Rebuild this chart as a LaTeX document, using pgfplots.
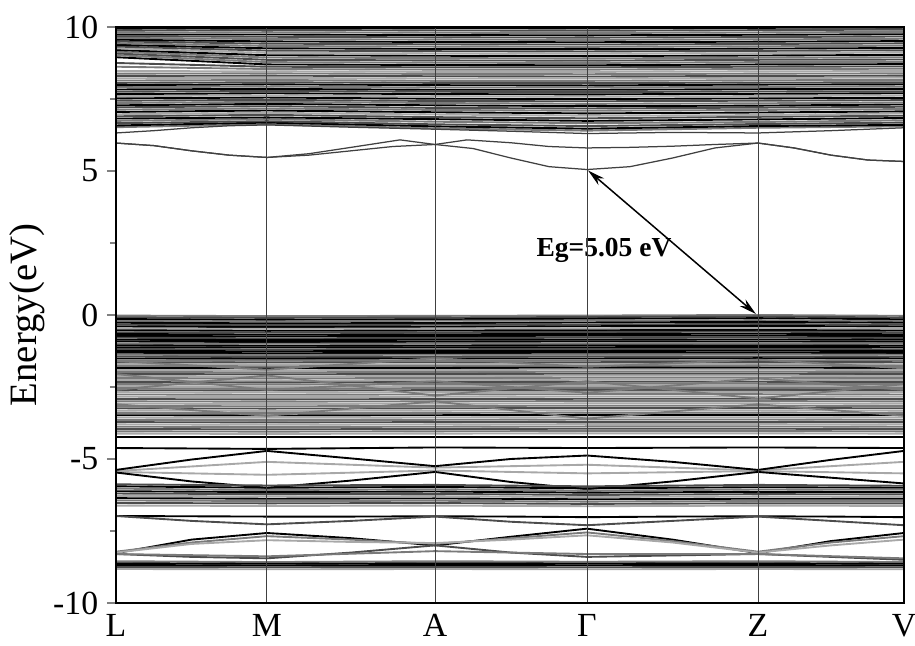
\documentclass[border=0pt]{standalone}
\usepackage{pgfplots}
\pgfplotsset{compat=1.18}
\usepackage{fontspec}
\setmainfont{Liberation Serif}
\usetikzlibrary{arrows.meta}
\tikzset{
 d0/.style={black, line width=0.75pt},
 d1/.style={black!70, line width=0.75pt},
 d2/.style={black!52, line width=0.75pt},
 d3/.style={black!34, line width=0.75pt},
 fe/.style={black!75, line width=0.5pt},
}
% one band: style, then energies at L, M, A, Gamma, Z, V
\newcommand{\fb}[7]{\addplot[#1] coordinates {(0,#2)(1.51,#3)(3.19,#4)(4.71,#5)(6.42,#6)(7.88,#7)};}
\begin{document}
\begin{tikzpicture}
\begin{axis}[name=ax, scale only axis, width=315.2pt, height=230.4pt,
 xmin=0, xmax=7.88, ymin=-10, ymax=10,
 axis on top, axis line style={line width=0.8pt},
 xtick={0,1.51,3.19,4.71,6.42,7.88},
 xticklabels={L,M,A,Γ,Z,V},
 xtick style={draw=none},
 xticklabel style={yshift=2.6pt},
 xmajorgrids, major x grid style={black!75, line width=0.4pt},
 ytick={-10,-5,0,5,10},
 yticklabels={-10,-5,0,5,10},
 minor y tick num=1,
 ytick pos=left, tick align=outside,
 major tick length=3.6pt, minor tick length=2.4pt,
 ytick style={line width=0.6pt},
 tick label style={font=\fontsize{13.5}{15}\selectfont},
 every axis y label/.style={at={(axis description cs:-0.112,0.5)}, rotate=90, anchor=center, font=\fontsize{15.5}{17}\selectfont},
 ylabel={Energy(eV)},
]
% ---------- upper conduction dense region ----------
\fb{d2}{6.52}{6.62}{6.48}{6.40}{6.50}{6.55}
\fb{d0}{6.58}{6.68}{6.55}{6.47}{6.56}{6.60}
\fb{d1}{6.66}{6.73}{6.62}{6.56}{6.63}{6.68}
\fb{d2}{6.74}{6.80}{6.71}{6.66}{6.70}{6.76}
\fb{d0}{6.82}{6.86}{6.80}{6.74}{6.79}{6.84}
\fb{d1}{6.90}{6.95}{6.87}{6.83}{6.88}{6.92}
\fb{d3}{6.97}{7.02}{6.96}{6.92}{6.94}{7.00}
\fb{d0}{7.05}{7.10}{7.04}{7.00}{7.03}{7.07}
\fb{d2}{7.13}{7.17}{7.12}{7.09}{7.12}{7.15}
\fb{d1}{7.21}{7.25}{7.19}{7.17}{7.20}{7.23}
\fb{d0}{7.28}{7.33}{7.28}{7.25}{7.27}{7.31}
\fb{d2}{7.36}{7.40}{7.36}{7.33}{7.35}{7.38}
\fb{d1}{7.44}{7.47}{7.43}{7.42}{7.44}{7.46}
\fb{d0}{7.52}{7.55}{7.51}{7.50}{7.52}{7.54}
\fb{d3}{7.60}{7.62}{7.59}{7.58}{7.60}{7.62}
\fb{d0}{7.67}{7.70}{7.67}{7.66}{7.68}{7.70}
\fb{d1}{7.75}{7.78}{7.75}{7.74}{7.76}{7.77}
\fb{d0}{7.83}{7.85}{7.82}{7.82}{7.84}{7.85}
\fb{d2}{7.91}{7.93}{7.90}{7.90}{7.92}{7.93}
\fb{d0}{7.98}{8.01}{7.98}{7.97}{8.00}{8.01}
\fb{d1}{8.06}{8.08}{8.06}{8.05}{8.07}{8.08}
\fb{d2}{8.14}{8.16}{8.13}{8.13}{8.15}{8.16}
\fb{d3}{8.22}{8.23}{8.21}{8.21}{8.23}{8.24}
\fb{d1}{8.30}{8.31}{8.29}{8.28}{8.30}{8.31}
\fb{d2}{8.38}{8.39}{8.37}{8.36}{8.38}{8.39}
\fb{d3}{8.47}{8.46}{8.44}{8.44}{8.46}{8.47}
\fb{d2}{8.62}{8.54}{8.52}{8.52}{8.54}{8.55}
\fb{d1}{8.75}{8.62}{8.60}{8.60}{8.62}{8.63}
\fb{d0}{8.95}{8.70}{8.68}{8.67}{8.70}{8.71}
\fb{d2}{9.02}{8.78}{8.76}{8.75}{8.78}{8.79}
\fb{d1}{9.08}{8.86}{8.84}{8.83}{8.86}{8.87}
\fb{d2}{9.14}{8.94}{8.92}{8.91}{8.93}{8.95}
\fb{d0}{9.20}{9.02}{9.00}{8.99}{9.01}{9.03}
\fb{d3}{9.26}{9.10}{9.08}{9.07}{9.09}{9.11}
\fb{d1}{9.32}{9.18}{9.16}{9.15}{9.17}{9.19}
\fb{d0}{9.38}{9.26}{9.24}{9.23}{9.25}{9.27}
\fb{d2}{9.44}{9.34}{9.32}{9.31}{9.33}{9.35}
\fb{d1}{9.50}{9.42}{9.40}{9.39}{9.41}{9.43}
\fb{d0}{9.56}{9.50}{9.48}{9.47}{9.49}{9.51}
\fb{d2}{9.62}{9.58}{9.56}{9.55}{9.57}{9.59}
\fb{d1}{9.68}{9.66}{9.64}{9.63}{9.65}{9.67}
\fb{d0}{9.74}{9.74}{9.72}{9.71}{9.73}{9.75}
\fb{d2}{9.80}{9.82}{9.80}{9.79}{9.81}{9.83}
\fb{d1}{9.87}{9.90}{9.88}{9.87}{9.89}{9.91}
\fb{d0}{9.94}{9.97}{9.96}{9.95}{9.97}{9.98}
\fb{d2}{10.02}{10.04}{10.02}{10.02}{10.03}{10.05}
% ---------- lowest conduction bands ----------
\addplot[fe] coordinates {(0,6.32)(0.38,6.40)(0.755,6.50)(1.13,6.57)(1.51,6.60)(2.35,6.52)(3.19,6.45)(3.95,6.38)(4.71,6.30)(5.565,6.34)(6.42,6.32)(7.15,6.40)(7.88,6.50)};
\addplot[fe] coordinates {(0,5.97)(0.38,5.88)(0.755,5.70)(1.13,5.55)(1.51,5.47)(1.93,5.60)(2.35,5.82)(2.84,6.08)(3.19,5.92)(3.51,6.08)(3.95,5.98)(4.33,5.85)(4.71,5.80)(5.14,5.82)(5.565,5.86)(5.99,5.92)(6.42,5.97)(6.78,5.80)(7.15,5.55)(7.52,5.38)(7.88,5.33)};
\addplot[fe] coordinates {(0,5.97)(0.38,5.88)(0.755,5.70)(1.13,5.55)(1.51,5.47)(1.93,5.55)(2.35,5.70)(2.77,5.85)(3.19,5.92)(3.57,5.78)(3.95,5.45)(4.33,5.15)(4.71,5.05)(5.14,5.15)(5.565,5.45)(5.99,5.80)(6.42,5.97)(6.78,5.80)(7.15,5.55)(7.52,5.38)(7.88,5.33)};
% ---------- valence dense region ----------
\fb{d2}{-0.02}{-0.04}{-0.03}{-0.02}{0.00}{-0.03}
\fb{d1}{-0.08}{-0.10}{-0.09}{-0.07}{-0.05}{-0.09}
\fb{d0}{-0.14}{-0.17}{-0.15}{-0.13}{-0.11}{-0.15}
\fb{d2}{-0.21}{-0.22}{-0.20}{-0.19}{-0.18}{-0.21}
\fb{d0}{-0.27}{-0.29}{-0.28}{-0.26}{-0.24}{-0.27}
\fb{d1}{-0.34}{-0.35}{-0.34}{-0.33}{-0.31}{-0.34}
\fb{d0}{-0.40}{-0.42}{-0.41}{-0.39}{-0.38}{-0.40}
\fb{d3}{-0.47}{-0.48}{-0.47}{-0.46}{-0.45}{-0.47}
\fb{d0}{-0.53}{-0.55}{-0.54}{-0.53}{-0.52}{-0.54}
\fb{d1}{-0.60}{-0.61}{-0.60}{-0.59}{-0.58}{-0.60}
\fb{d0}{-0.66}{-0.68}{-0.67}{-0.66}{-0.65}{-0.67}
\fb{d0}{-0.73}{-0.74}{-0.73}{-0.72}{-0.72}{-0.73}
\fb{d1}{-0.79}{-0.81}{-0.80}{-0.79}{-0.78}{-0.80}
\fb{d0}{-0.86}{-0.87}{-0.86}{-0.86}{-0.85}{-0.86}
\fb{d0}{-0.92}{-0.94}{-0.93}{-0.92}{-0.92}{-0.93}
\fb{d2}{-0.99}{-1.00}{-0.99}{-0.99}{-0.98}{-0.99}
\fb{d0}{-1.05}{-1.07}{-1.06}{-1.05}{-1.05}{-1.06}
\fb{d0}{-1.12}{-1.13}{-1.12}{-1.12}{-1.11}{-1.12}
\fb{d1}{-1.18}{-1.20}{-1.19}{-1.18}{-1.18}{-1.19}
\fb{d0}{-1.25}{-1.26}{-1.25}{-1.25}{-1.24}{-1.25}
\fb{d0}{-1.31}{-1.33}{-1.32}{-1.31}{-1.31}{-1.32}
\fb{d2}{-1.38}{-1.39}{-1.38}{-1.38}{-1.37}{-1.38}
\fb{d1}{-1.44}{-1.46}{-1.45}{-1.44}{-1.44}{-1.45}
\fb{d0}{-1.51}{-1.52}{-1.51}{-1.51}{-1.50}{-1.51}
\fb{d2}{-1.57}{-1.59}{-1.58}{-1.57}{-1.57}{-1.58}
\fb{d1}{-1.64}{-1.65}{-1.64}{-1.64}{-1.63}{-1.64}
\fb{d3}{-1.70}{-1.72}{-1.71}{-1.70}{-1.70}{-1.71}
\fb{d2}{-1.77}{-1.78}{-1.77}{-1.77}{-1.76}{-1.77}
\fb{d0}{-1.84}{-1.85}{-1.84}{-1.83}{-1.83}{-1.84}
\fb{d3}{-1.91}{-1.92}{-1.91}{-1.90}{-1.90}{-1.91}
\fb{d2}{-1.98}{-1.99}{-1.98}{-1.97}{-1.97}{-1.98}
\fb{d1}{-2.05}{-2.06}{-2.05}{-2.04}{-2.04}{-2.05}
\fb{d3}{-2.12}{-2.13}{-2.12}{-2.11}{-2.11}{-2.12}
\fb{d2}{-2.19}{-2.20}{-2.19}{-2.18}{-2.18}{-2.19}
\fb{d3}{-2.26}{-2.27}{-2.26}{-2.25}{-2.25}{-2.26}
\fb{d1}{-2.33}{-2.34}{-2.33}{-2.32}{-2.32}{-2.33}
\fb{d2}{-2.40}{-2.41}{-2.40}{-2.39}{-2.39}{-2.40}
\fb{d3}{-2.47}{-2.48}{-2.47}{-2.46}{-2.46}{-2.47}
\fb{d2}{-2.54}{-2.55}{-2.54}{-2.53}{-2.53}{-2.54}
\fb{d1}{-2.61}{-2.62}{-2.61}{-2.60}{-2.60}{-2.61}
\fb{d3}{-2.68}{-2.69}{-2.68}{-2.67}{-2.67}{-2.68}
\fb{d2}{-2.76}{-2.77}{-2.76}{-2.75}{-2.75}{-2.76}
\fb{d3}{-2.84}{-2.85}{-2.84}{-2.83}{-2.83}{-2.84}
\fb{d1}{-2.92}{-2.93}{-2.92}{-2.91}{-2.91}{-2.92}
\fb{d2}{-3.00}{-3.01}{-3.00}{-2.99}{-2.99}{-3.00}
\fb{d3}{-3.08}{-3.09}{-3.08}{-3.07}{-3.07}{-3.08}
\fb{d2}{-3.16}{-3.17}{-3.16}{-3.15}{-3.15}{-3.16}
\fb{d1}{-3.24}{-3.25}{-3.24}{-3.23}{-3.23}{-3.24}
\fb{d3}{-3.32}{-3.33}{-3.32}{-3.31}{-3.31}{-3.32}
\fb{d2}{-3.40}{-3.41}{-3.40}{-3.39}{-3.39}{-3.40}
\fb{d0}{-3.48}{-3.49}{-3.48}{-3.47}{-3.47}{-3.48}
\fb{d3}{-3.56}{-3.57}{-3.56}{-3.55}{-3.55}{-3.56}
\fb{d2}{-3.64}{-3.65}{-3.64}{-3.63}{-3.63}{-3.64}
\fb{d1}{-3.72}{-3.73}{-3.72}{-3.71}{-3.71}{-3.72}
\fb{d3}{-3.80}{-3.81}{-3.80}{-3.79}{-3.79}{-3.80}
\fb{d2}{-3.88}{-3.89}{-3.88}{-3.87}{-3.87}{-3.88}
\fb{d1}{-3.96}{-3.97}{-3.96}{-3.95}{-3.95}{-3.96}
\fb{d2}{-4.04}{-4.05}{-4.04}{-4.03}{-4.03}{-4.04}
\fb{d3}{-4.12}{-4.13}{-4.12}{-4.11}{-4.11}{-4.12}
\fb{d0}{-4.24}{-4.24}{-4.24}{-4.24}{-4.24}{-4.24}
% dispersive bands inside the valence block
\fb{d2}{-1.60}{-1.90}{-1.50}{-1.80}{-1.55}{-1.85}
\fb{d2}{-2.05}{-2.60}{-2.30}{-2.70}{-2.20}{-2.60}
\fb{d2}{-2.60}{-2.10}{-2.80}{-2.30}{-2.90}{-2.40}
\fb{d2}{-3.10}{-3.50}{-3.00}{-3.60}{-3.10}{-3.50}
% ---------- lower valence bands ----------
\fb{d0}{-4.62}{-4.65}{-4.60}{-4.62}{-4.60}{-4.62}
\fb{d3}{-5.42}{-5.10}{-5.30}{-5.20}{-5.40}{-5.10}
\fb{d3}{-5.45}{-5.55}{-5.40}{-5.50}{-5.42}{-5.50}
\addplot[d0] coordinates {(0,-5.38)(0.755,-5.02)(1.51,-4.72)(2.35,-4.98)(3.19,-5.25)(3.95,-5.00)(4.71,-4.88)(5.565,-5.10)(6.42,-5.38)(7.15,-5.03)(7.88,-4.72)};
\addplot[d0] coordinates {(0,-5.47)(0.755,-5.78)(1.51,-6.00)(2.35,-5.75)(3.19,-5.45)(3.95,-5.80)(4.71,-6.05)(5.565,-5.78)(6.42,-5.45)(7.15,-5.65)(7.88,-5.85)};
\fb{d1}{-5.88}{-5.92}{-5.90}{-5.95}{-5.90}{-5.93}
\fb{d0}{-5.95}{-6.00}{-5.97}{-6.02}{-5.98}{-6.00}
\fb{d2}{-6.03}{-6.08}{-6.05}{-6.10}{-6.06}{-6.07}
\fb{d0}{-6.12}{-6.15}{-6.13}{-6.17}{-6.14}{-6.15}
\fb{d1}{-6.20}{-6.22}{-6.21}{-6.25}{-6.22}{-6.23}
\fb{d3}{-6.28}{-6.30}{-6.29}{-6.32}{-6.30}{-6.31}
\fb{d0}{-6.36}{-6.38}{-6.37}{-6.40}{-6.38}{-6.38}
\fb{d2}{-6.44}{-6.46}{-6.45}{-6.48}{-6.46}{-6.46}
\fb{d1}{-6.53}{-6.54}{-6.53}{-6.56}{-6.54}{-6.54}
\fb{d3}{-6.62}{-6.63}{-6.62}{-6.64}{-6.62}{-6.63}
\addplot[d0] coordinates {(0,-6.98)(0.755,-6.99)(1.51,-7.00)(2.35,-7.00)(3.19,-6.99)(3.95,-7.00)(4.71,-7.02)(5.565,-7.00)(6.42,-6.99)(7.15,-7.00)(7.88,-7.02)};
\addplot[d1] coordinates {(0,-6.98)(0.755,-7.15)(1.51,-7.27)(2.35,-7.15)(3.19,-7.00)(3.95,-7.18)(4.71,-7.30)(5.565,-7.15)(6.42,-7.00)(7.15,-7.15)(7.88,-7.30)};
\addplot[d0] coordinates {(0,-8.27)(0.755,-7.80)(1.51,-7.57)(2.35,-7.75)(3.19,-8.00)(3.95,-7.70)(4.71,-7.42)(5.565,-7.80)(6.42,-8.27)(7.15,-7.85)(7.88,-7.57)};
\addplot[d2] coordinates {(0,-8.22)(0.755,-7.90)(1.51,-7.68)(2.35,-7.80)(3.19,-7.95)(3.95,-7.75)(4.71,-7.55)(5.565,-7.85)(6.42,-8.22)(7.15,-7.90)(7.88,-7.68)};
\addplot[d3] coordinates {(0,-8.25)(0.755,-7.95)(1.51,-7.82)(2.35,-7.88)(3.19,-7.92)(3.95,-7.80)(4.71,-7.65)(5.565,-7.90)(6.42,-8.25)(7.15,-8.00)(7.88,-7.80)};
\addplot[d1] coordinates {(0,-8.30)(0.755,-8.40)(1.51,-8.45)(2.35,-8.25)(3.19,-8.00)(3.95,-8.25)(4.71,-8.40)(5.565,-8.35)(6.42,-8.30)(7.15,-8.40)(7.88,-8.50)};
\fb{d2}{-8.30}{-8.38}{-8.20}{-8.30}{-8.30}{-8.45}
\fb{d2}{-8.55}{-8.58}{-8.55}{-8.57}{-8.55}{-8.58}
\fb{d0}{-8.62}{-8.64}{-8.62}{-8.63}{-8.62}{-8.64}
\fb{d0}{-8.68}{-8.70}{-8.68}{-8.69}{-8.68}{-8.70}
\fb{d1}{-8.75}{-8.76}{-8.75}{-8.76}{-8.75}{-8.76}
\fb{d3}{-8.82}{-8.83}{-8.82}{-8.83}{-8.82}{-8.83}
% ---------- gap annotation ----------
\draw[{Stealth[length=7pt,width=3.5pt]}-{Stealth[length=7pt,width=3.5pt]}, line width=0.6pt] (axis cs:4.72,5.02) -- (axis cs:6.40,0.03);
\node[font=\bfseries\fontsize{11}{13}\selectfont] at (axis cs:4.88,2.24) {Eg=5.05 eV};
\end{axis}
\pgfresetboundingbox
\path[use as bounding box] ([xshift=-46.4pt,yshift=-17.2pt]ax.south west) rectangle ([xshift=4.4pt,yshift=10.8pt]ax.north east);
\end{tikzpicture}
\end{document}
